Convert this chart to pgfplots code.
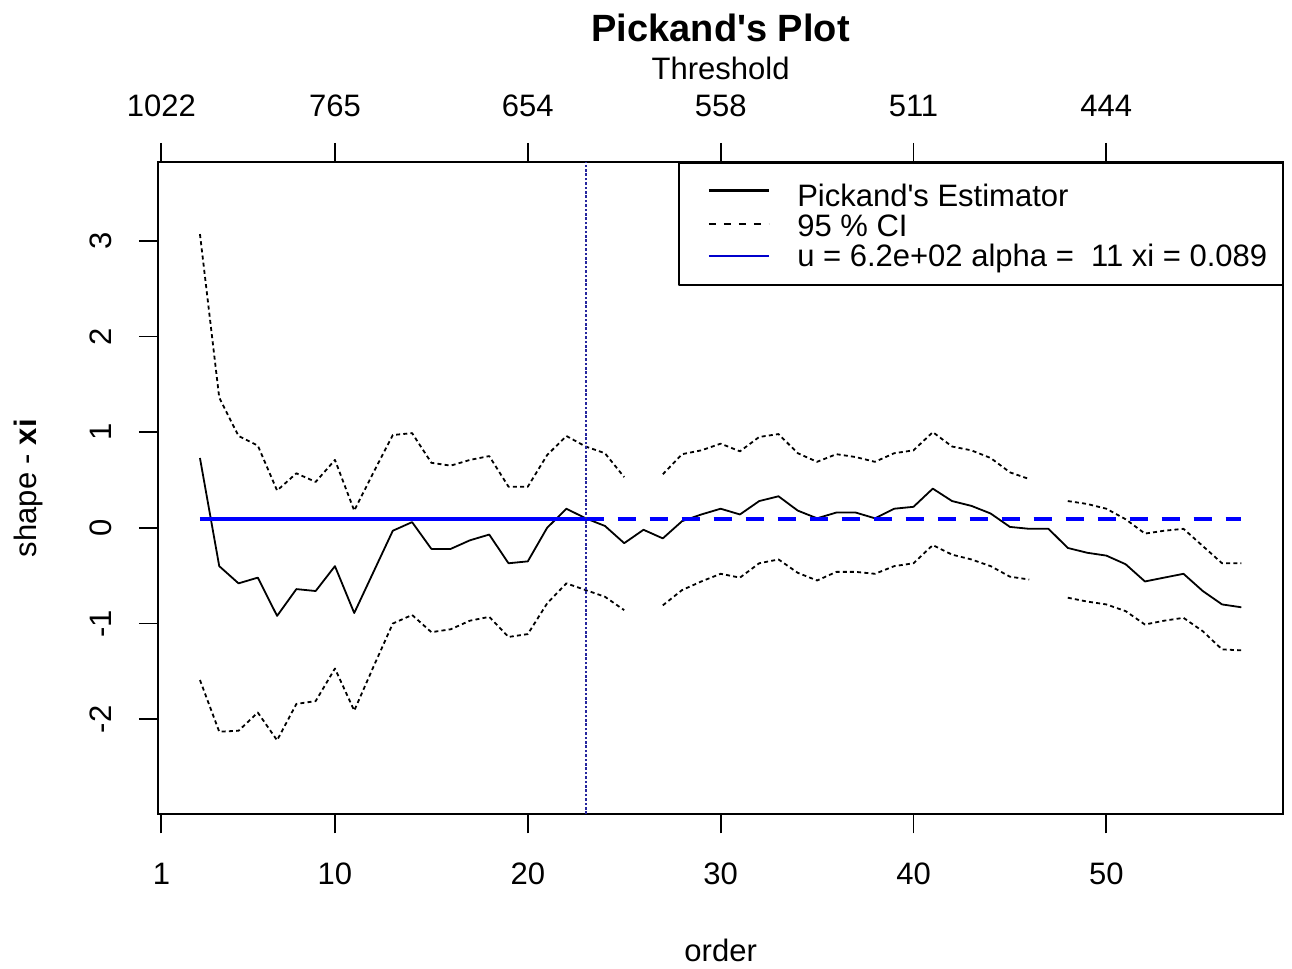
\documentclass[border=0pt]{standalone}
\usepackage{fontspec}
\setmainfont{Liberation Sans}
\usepackage{pgfplots}
\usepackage{pgfplotstable}
\pgfplotsset{compat=1.18}

% Pickands estimate of the shape parameter by order, with 95% bounds
\pgfplotstableread{
order  xi     upper  lower
3      0.73   3.07   -1.59
4     -0.40   1.36   -2.13
5     -0.58   0.96   -2.12
6     -0.52   0.86   -1.93
7     -0.92   0.39   -2.22
8     -0.64   0.57   -1.84
9     -0.66   0.48   -1.81
10    -0.40   0.71   -1.47
11    -0.89   0.18   -1.91
12    -0.46   0.58   -1.45
13    -0.03   0.97   -1.00
14     0.06   0.99   -0.91
15    -0.22   0.68   -1.09
16    -0.22   0.65   -1.06
17    -0.13   0.71   -0.97
18    -0.07   0.75   -0.93
19    -0.37   0.43   -1.14
20    -0.35   0.43   -1.11
21     0.00   0.76   -0.79
22     0.20   0.96   -0.58
23     0.10   0.85   -0.65
24     0.02   0.78   -0.72
25    -0.16   0.53   -0.86
26    -0.02   nan     nan
27    -0.11   0.56   -0.81
28     0.07   0.77   -0.65
29     0.14   0.81   -0.56
30     0.20   0.88   -0.48
31     0.14   0.80   -0.52
32     0.28   0.95   -0.37
33     0.33   0.98   -0.33
34     0.18   0.78   -0.47
35     0.10   0.69   -0.55
36     0.16   0.77   -0.46
37     0.16   0.74   -0.46
38     0.10   0.69   -0.48
39     0.20   0.78   -0.40
40     0.22   0.81   -0.37
41     0.41   1.00   -0.18
42     0.28   0.85   -0.28
43     0.23   0.81   -0.33
44     0.15   0.73   -0.40
45     0.01   0.58   -0.51
46    -0.01   0.51   -0.54
47    -0.01   nan     nan
48    -0.21   0.28   -0.73
49    -0.26   0.25   -0.77
50    -0.29   0.20   -0.80
51    -0.38   0.09   -0.87
52    -0.56  -0.06   -1.01
53    -0.52  -0.03   -0.97
54    -0.48  -0.01   -0.94
55    -0.66  -0.19   -1.08
56    -0.80  -0.37   -1.27
57    -0.83  -0.37   -1.28
}\pickands

\definecolor{navyline}{rgb}{0.15,0.15,0.62}
\newcommand{\plotfont}{\fontsize{15.5}{18}\selectfont}
\newcommand{\apos}{\textquotesingle}

\pgfplotsset{
  framebase/.style={
    at={(79.15pt,77.5pt)}, anchor=south west,
    scale only axis, width=562.35pt, height=325.85pt,
    xmin=0.84, xmax=59.16, ymin=-2.99, ymax=3.82,
    font=\plotfont,
    tick align=outside, major tick length=9.75pt,
    /pgf/number format/assume math mode=true,
    every tick/.style={black, line width=0.9pt},
    axis line style={line width=0.9pt},
    xtick={1,10,20,30,40,50},
  },
}

\begin{document}
\begin{tikzpicture}
\useasboundingbox (0pt,0pt) rectangle (646pt,484.5pt);

% top axis: thresholds matching the orders
\begin{axis}[framebase,
  xtick pos=right, ytick=\empty,
  xticklabels={1022,765,654,558,511,444},
  xticklabel style={anchor=center}, xticklabel shift=18.5pt,
  xlabel={Threshold},
  xlabel style={at={(axis description cs:0.5,1.1442)}, anchor=center},
]
\end{axis}

\begin{axis}[framebase,
  xtick pos=left, ytick pos=left,
  ytick={-2,-1,0,1,2,3},
  xticklabel style={anchor=center}, xticklabel shift=20pt,
  yticklabel style={rotate=90, anchor=center}, yticklabel shift=19pt,
  xlabel={order},
  xlabel style={at={(axis description cs:0.5,-0.2087)}, anchor=center},
  ylabel={shape - \textbf{xi}},
  ylabel style={at={(axis description cs:-0.1156,0.5)}, anchor=center},
  title={\bfseries Pickand\apos s Plot},
  title style={at={(axis description cs:0.5,1.2056)}, anchor=center, yshift=-6pt,
    font=\fontsize{19}{22}\selectfont},
  unbounded coords=jump,
  line join=round,
  legend style={at={(rel axis cs:1,1)}, anchor=north east,
    draw=black, line width=0.75pt, fill=white,
    font=\plotfont, inner xsep=7.5pt, inner ysep=8pt,
    row sep=0pt, column sep=13.5pt,
    nodes={inner sep=0pt, text height=13.5pt, text depth=1.5pt}},
  legend cell align=left,
  legend image code/.code={
    \path[draw=none] (0pt,0pt) -- (7.5pt,0pt);
    \draw[#1] (7.5pt,0pt) -- (37.5pt,0pt);
  },
]
% confidence bounds
\addplot[black, line width=0.9pt, dash pattern=on 2pt off 1.6pt, forget plot]
  table[x=order, y=upper] {\pickands};
\addplot[black, line width=0.9pt, dash pattern=on 2pt off 1.6pt, forget plot]
  table[x=order, y=lower] {\pickands};
% estimator
\addplot[black, line width=0.9pt, forget plot]
  table[x=order, y=xi] {\pickands};
% selected shape value xi = 0.089 at order 23
\addplot[blue, line width=2pt, forget plot] coordinates {(3,0.089) (23,0.089)};
\addplot[blue, line width=2pt, dash pattern=on 9pt off 7pt, forget plot]
  coordinates {(23,0.089) (57,0.089)};
\addplot[navyline, line width=0.9pt, dash pattern=on 1.3pt off 0.9pt, forget plot]
  coordinates {(23,-2.99) (23,3.82)};

\addlegendimage{black, line width=1.5pt, yshift=2pt}
\addlegendentry{Pickand\apos s Estimator}
\addlegendimage{black, line width=0.6pt, dash pattern=on 3.5pt off 4pt}
\addlegendentry{95 \% CI}
\addlegendimage{blue!80!black, line width=0.6pt, yshift=-1pt}
\addlegendentry{u = 6.2e+02 alpha =\ \ 11 xi = 0.089}
\end{axis}
\end{tikzpicture}
\end{document}
